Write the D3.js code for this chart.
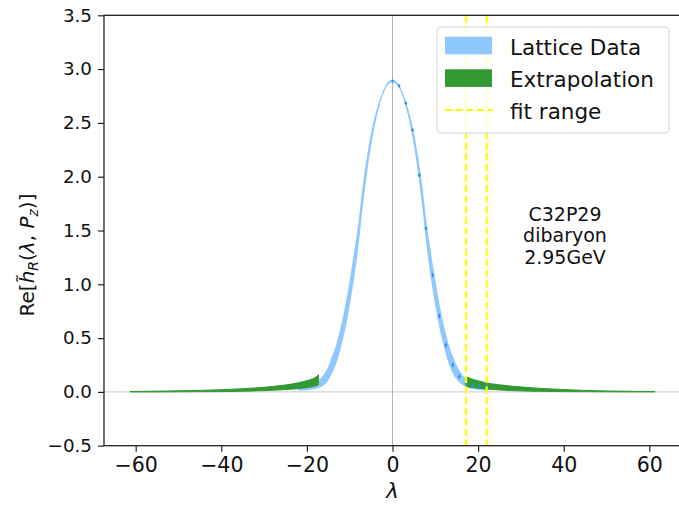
<!DOCTYPE html>
<html>
<head>
<meta charset="utf-8">
<script src="https://cdn.jsdelivr.net/npm/d3@7"></script>
<style>
  body { margin: 0; background: #fff; }
  svg { display: block; font-family: "DejaVu Sans", sans-serif; }
</style>
</head>
<body>
<div id="chart"></div>
<script>
// lattice band: lambda grid, central value, half width
var latticeLam = [-22,-21,-20,-19,-18,-17,-16,-15,-14,-13,-12,-11,-10,-9,-8,-7,-6,-5,-4,-3,-2,-1,
                  0,1,2,3,4,5,6,7,8,9,10,11,12,13,14,15,16,17,18,19,20,21,22];
var latticeMid = [0.040,0.042,0.045,0.050,0.060,0.080,0.115,0.170,0.265,0.370,0.520,0.700,0.920,1.170,1.450,1.800,2.100,2.350,2.540,2.690,2.800,2.870,
                  2.890,2.870,2.800,2.690,2.540,2.350,2.100,1.800,1.450,1.170,0.920,0.700,0.520,0.370,0.260,0.180,0.125,0.090,0.068,0.056,0.050,0.045,0.042];
var latticeErr = [0.028,0.029,0.030,0.031,0.033,0.040,0.050,0.065,0.080,0.090,0.100,0.110,0.120,0.120,0.110,0.100,0.080,0.060,0.040,0.025,0.015,0.012,
                  0.012,0.012,0.015,0.025,0.040,0.060,0.080,0.100,0.110,0.120,0.120,0.110,0.100,0.090,0.080,0.065,0.050,0.040,0.033,0.031,0.030,0.029,0.028];

// lattice points (dark markers)
var pointLam = [0,1.5625,3.125,4.6875,6.25,7.8125,9.375,10.9375,12.5,14.0625,15.625,17.1875,18.75,20.3125,21.875];
var pointVal = [2.890,2.844,2.683,2.435,2.014,1.520,1.087,0.706,0.437,0.251,0.142,0.081,0.062,0.052,0.047];
var pointErr = [0.006,0.006,0.007,0.008,0.009,0.010,0.011,0.012,0.012,0.012,0.012,0.012,0.012,0.012,0.012];

// extrapolation bands
var extLeftLam   = [-61.3,-55,-50,-45,-40,-35,-30,-27,-24,-22,-20,-18,-17.3];
var extLeftLow   = [0.000,0.000,0.001,0.002,0.003,0.006,0.012,0.017,0.024,0.030,0.040,0.055,0.065];
var extLeftHigh  = [0.004,0.007,0.010,0.014,0.020,0.030,0.043,0.055,0.070,0.085,0.105,0.135,0.158];
var extRightLam  = [17.2,18,20,22,25,28,31,35,40,45,50,55,61.3];
var extRightLow  = [0.050,0.045,0.035,0.027,0.018,0.012,0.008,0.005,0.003,0.002,0.001,0.0005,0.0002];
var extRightHigh = [0.142,0.128,0.103,0.083,0.066,0.053,0.043,0.032,0.022,0.014,0.009,0.006,0.003];

var fitRange = [17.2, 22];
var xTicks = [-60,-40,-20,0,20,40,60];
var yTicks = [-0.5,0,0.5,1,1.5,2,2.5,3,3.5];
var legendLabels = ["Lattice Data", "Extrapolation", "fit range"];
var noteLines = ["C32P29", "dibaryon", "2.95GeV"];

var blue = "#8fc7ff", green = "#339933", dark = "#1e8ff5";

var svg = d3.select("#chart").append("svg").attr("width", 679).attr("height", 505);

var x = d3.scaleLinear().domain([-67.4, 67.4]).range([104, 681]);
var y = d3.scaleLinear().domain([-0.5, 3.5]).range([445.7, 15.3]);

svg.append("defs").append("clipPath").attr("id", "clip")
  .append("rect").attr("x", 104).attr("y", 15.3).attr("width", 577).attr("height", 430.4);

var plot = svg.append("g").attr("clip-path", "url(#clip)");

// zero lines
plot.append("line").attr("x1", 104).attr("x2", 681).attr("y1", y(0)).attr("y2", y(0))
  .attr("stroke", "#c8c8c8").attr("stroke-width", 1);
plot.append("line").attr("x1", x(0)).attr("x2", x(0)).attr("y1", 15.3).attr("y2", 445.7)
  .attr("stroke", "#a0a0a0").attr("stroke-width", 0.8);

// lattice band
var lattice = latticeLam.map(function(l, i) { return {l: l, lo: latticeMid[i] - latticeErr[i], hi: latticeMid[i] + latticeErr[i]}; });
var band = d3.area().curve(d3.curveMonotoneX)
  .x(function(d) { return x(d.l); }).y0(function(d) { return y(d.lo); }).y1(function(d) { return y(d.hi); });
plot.append("path").datum(lattice).attr("d", band).attr("fill", blue);

// extrapolation
function extData(lam, lo, hi) {
  return lam.map(function(l, i) { return {l: l, lo: lo[i], hi: hi[i]}; });
}
[extData(extLeftLam, extLeftLow, extLeftHigh), extData(extRightLam, extRightLow, extRightHigh)].forEach(function(d) {
  plot.append("path").datum(d).attr("d", band)
    .attr("fill", green).attr("stroke", green).attr("stroke-width", 1);
});

// lattice points with small error bars
var pts = plot.append("g");
pointLam.forEach(function(l, i) {
  pts.append("line").attr("x1", x(l)).attr("x2", x(l))
    .attr("y1", y(pointVal[i] - pointErr[i]) + 1).attr("y2", y(pointVal[i] + pointErr[i]) - 1)
    .attr("stroke", dark).attr("stroke-width", 1);
  pts.append("circle").attr("cx", x(l)).attr("cy", y(pointVal[i])).attr("r", 1.2).attr("fill", dark);
});

// fit range lines
fitRange.forEach(function(l) {
  plot.append("line").attr("x1", x(l)).attr("x2", x(l)).attr("y1", 15.3).attr("y2", 445.7)
    .attr("stroke", "#ffff00").attr("stroke-width", 2.2).attr("stroke-dasharray", "7.4,3.2");
});

// annotation
svg.append("text").attr("x", 565).attr("y", 220.5).attr("text-anchor", "middle")
  .attr("font-size", "19px").attr("fill", "#111")
  .selectAll("tspan").data(noteLines).enter().append("tspan")
  .attr("x", 565).attr("dy", function(d, i) { return i ? 21.5 : 0; })
  .text(function(d) { return d; });

// axes
var xAxis = svg.append("g").attr("transform", "translate(0,445.7)")
  .call(d3.axisBottom(x).tickValues(xTicks).tickSize(6).tickPadding(6)
        .tickFormat(function(d) { return d < 0 ? "\u2212" + Math.abs(d) : d; }));
var yAxis = svg.append("g").attr("transform", "translate(104,0)")
  .call(d3.axisLeft(y).tickValues(yTicks).tickSize(6).tickPadding(6)
        .tickFormat(function(d) { return d < 0 ? "\u2212" + d3.format(".1f")(-d) : d3.format(".1f")(d); }));
[xAxis, yAxis].forEach(function(a) {
  a.select(".domain").remove();
  a.selectAll(".tick line").attr("stroke", "#222").attr("stroke-width", 1.2);
  a.selectAll("text").attr("fill", "#111").attr("font-family", "DejaVu Sans");
});
xAxis.selectAll("text").attr("font-size", "20.5px");
yAxis.selectAll("text").attr("font-size", "18.3px");

// spines
svg.append("rect").attr("x", 104).attr("y", 15.3).attr("width", 577).attr("height", 430.4)
  .attr("fill", "none").attr("stroke", "#222").attr("stroke-width", 1.3);

// axis labels
svg.append("text").attr("x", x(0)).attr("y", 498).attr("text-anchor", "middle")
  .attr("font-size", "21px").attr("font-style", "italic").attr("fill", "#111").text("λ");

var yl = svg.append("text").attr("transform", "translate(33.5,255) rotate(-90)")
  .attr("text-anchor", "middle").attr("font-size", "20px").attr("fill", "#111");
yl.append("tspan").text("Re[");
yl.append("tspan").attr("font-style", "italic").text("h\u0303");
yl.append("tspan").attr("font-style", "italic").attr("font-size", "14px").attr("dy", 4).text("R");
yl.append("tspan").attr("dy", -4).text("(");
yl.append("tspan").attr("font-style", "italic").text("λ");
yl.append("tspan").text(", ");
yl.append("tspan").attr("font-style", "italic").text("P");
yl.append("tspan").attr("font-style", "italic").attr("font-size", "14px").attr("dy", 4).text("z");
yl.append("tspan").attr("dy", -4).text(")]");

// legend
var lg = svg.append("g");
lg.append("rect").attr("x", 437).attr("y", 27).attr("width", 232).attr("height", 106).attr("rx", 4)
  .attr("fill", "#fff").attr("fill-opacity", 0.8).attr("stroke", "#d3d3d3").attr("stroke-width", 1);
lg.append("rect").attr("x", 445).attr("y", 36.7).attr("width", 47).attr("height", 17.6).attr("fill", blue);
lg.append("rect").attr("x", 445).attr("y", 69.3).attr("width", 47).attr("height", 17.6).attr("fill", green);
lg.append("line").attr("x1", 445).attr("x2", 492).attr("y1", 110).attr("y2", 110)
  .attr("stroke", "#ffff00").attr("stroke-width", 2.2).attr("stroke-dasharray", "7.4,3.2");
lg.selectAll(".lt").data(legendLabels).enter().append("text")
  .attr("x", 510).attr("y", function(d, i) { return 54.5 + i * 32; })
  .attr("font-size", "21.5px").attr("fill", "#111").text(function(d) { return d; });
</script>
</body>
</html>
